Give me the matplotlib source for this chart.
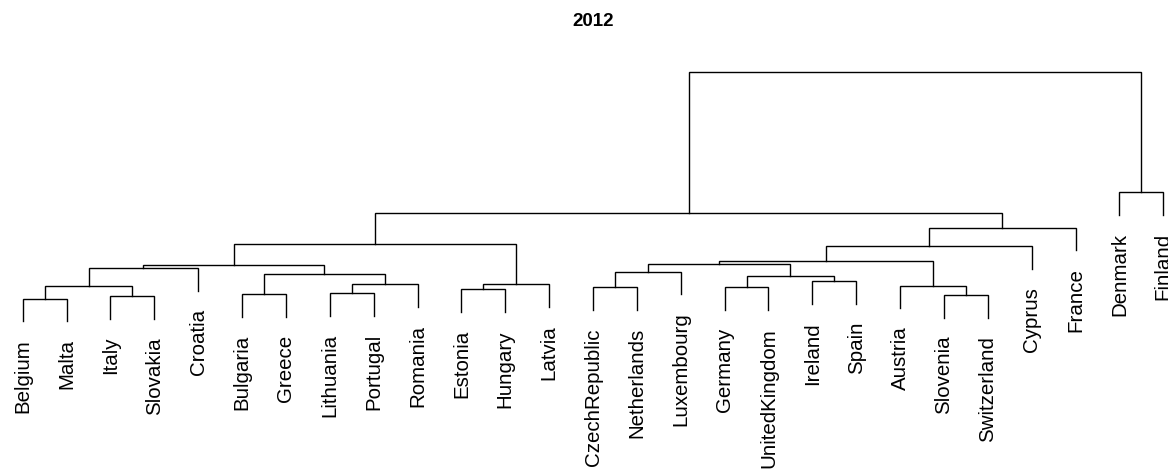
import numpy as np
import matplotlib
matplotlib.use('Agg')
import matplotlib.pyplot as plt

plt.rcParams['font.family'] = ['Liberation Sans', 'DejaVu Sans']

# Countries in dendrogram leaf order
labels = ['Belgium', 'Malta', 'Italy', 'Slovakia', 'Croatia', 'Bulgaria',
          'Greece', 'Lithuania', 'Portugal', 'Romania', 'Estonia', 'Hungary',
          'Latvia', 'CzechRepublic', 'Netherlands', 'Luxembourg', 'Germany',
          'UnitedKingdom', 'Ireland', 'Spain', 'Austria', 'Slovenia',
          'Switzerland', 'Cyprus', 'France', 'Denmark', 'Finland']

# hclust-style merge table: negative = leaf number, positive = earlier merge
merge_left = [-1, -3, -22, -6, -8, -11, -14, -17, 1, -21, 5, 6, -19,
              8, 4, 7, 9, 17, 16, 19, 20, 18, 21, 22, -26, 24]
merge_right = [-2, -4, -23, -7, -9, -12, -15, -18, 2, 3, -10, -13, -20,
               13, 11, -16, -5, 15, 14, 10, -24, 12, -25, 23, -27, 25]
merge_height = [1.00, 1.11, 1.16, 1.19, 1.24, 1.41, 1.50, 1.50, 1.55, 1.57,
                1.63, 1.63, 1.77, 1.99, 2.07, 2.19, 2.35, 2.47, 2.52, 2.66,
                3.31, 3.40, 4.13, 4.79, 5.69, 11.00]

hang = 0.1 * (max(merge_height) - min(merge_height))

fig = plt.figure(figsize=(11.68, 4.71), dpi=100)
ax = fig.add_axes([0, 0, 1, 1])
ax.axis('off')

node_x = {}
leaf_bottom = {}


def child_pos(c, h):
    # returns (x, y of the child's top) for a child of a merge at height h
    if c < 0:
        leaf_bottom[-c] = h - hang
        return float(-c), h - hang
    return node_x[c], merge_height[c - 1]


for i, (a, b, h) in enumerate(zip(merge_left, merge_right, merge_height), 1):
    xa, ya = child_pos(a, h)
    xb, yb = child_pos(b, h)
    ax.plot([xa, xa, xb, xb], [ya, h, h, yb], color='black', lw=1.0,
            solid_joinstyle='miter')
    node_x[i] = (xa + xb) / 2

for k, name in enumerate(labels, 1):
    ax.annotate(name, xy=(k, leaf_bottom[k]), xytext=(0, -13),
                textcoords='offset points', rotation=90, ha='center',
                va='top', fontsize=14.8)

# leaf spacing ~43.9 px, first leaf at ~22.7 px; 22.7 px per height unit
px_x = 43.87
ax.set_xlim(1 - 22.7 / px_x, 1 + (1168 - 22.7) / px_x)
ax.set_ylim(1 - (471 - 298.7) / 22.7, 1 + 298.7 / 22.7)

fig.text(593 / 1168, 1 - 21 / 471, '2012', ha='center', va='center',
         fontsize=13.5, fontweight='bold')

fig.savefig('out.png', dpi=100)
